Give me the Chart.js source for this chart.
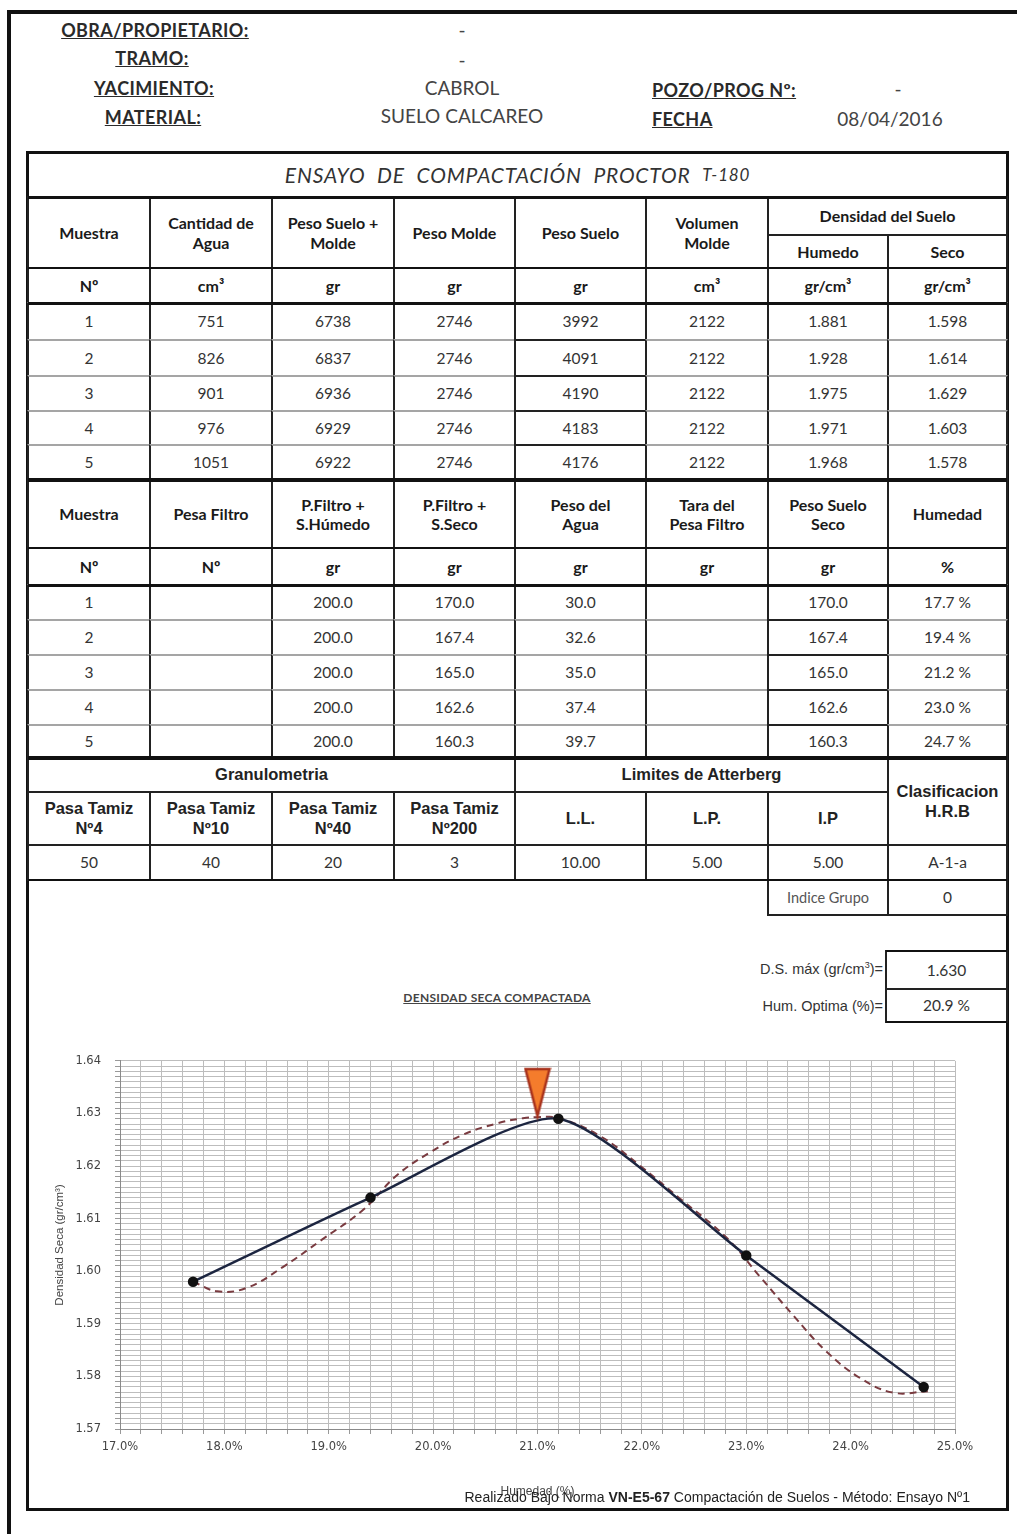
<!DOCTYPE html>
<html>
<head>
<meta charset="utf-8">
<script src="https://cdn.jsdelivr.net/npm/chart.js@4.4.1/dist/chart.umd.min.js"></script>
<style>
  html, body { margin: 0; padding: 0; background: #fff; }
  #page { position: relative; width: 1017px; height: 1534px; overflow: hidden; font-family: "Lato", sans-serif; color: #222; }
  .c { position: absolute; box-sizing: border-box; border: 2px solid #222; display: flex; align-items: center; justify-content: center; text-align: center; line-height: 1.2; }
  .h { font-weight: bold; font-size: 16px; color: #1a1a1a; }
  .a { font-family: "Liberation Sans", Arial, sans-serif; font-weight: bold; font-size: 16.5px; color: #222; }
  .d { font-size: 15.5px; color: #333; border-top-color: #a5a5a5; border-bottom-color: #a5a5a5; }
  .dk { border-top-color: #222; border-bottom-color: #222; }
  .sm { font-size: 14.5px; color: #555; }
  .ttl { font-style: italic; font-size: 21px; letter-spacing: 0.8px; word-spacing: 6px; color: #333; border: none; }
  .hl { position: absolute; background: #111; }
  .t { position: absolute; white-space: nowrap; }
  .lbl { font-weight: bold; text-decoration: underline; font-size: 18px; letter-spacing: 0.4px; color: #2a2a2a; text-align: center; width: 220px; }
  .val { font-size: 19px; color: #444; text-align: center; width: 240px; }
  #chartBox { position: absolute; left: 30px; top: 1040px; width: 960px; height: 470px; }
</style>
</head>
<body>
<div id="page">
  <!-- marco exterior -->
  <div class="hl" style="left:7px;top:10px;width:1010px;height:4px;"></div>
  <div class="hl" style="left:7px;top:10px;width:4px;height:1524px;"></div>
  <!-- recuadro interior -->
  <div style="position:absolute;left:26px;top:151px;width:983px;height:1360px;border:3px solid #111;box-sizing:border-box;"></div>

  <!-- encabezado -->
  <div class="t lbl" style="left:45px;top:19px;">OBRA/PROPIETARIO:</div>
  <div class="t lbl" style="left:42px;top:47px;">TRAMO:</div>
  <div class="t lbl" style="left:44px;top:77px;">YACIMIENTO:</div>
  <div class="t lbl" style="left:43px;top:106px;">MATERIAL:</div>
  <div class="t val" style="left:342px;top:18px;">-</div>
  <div class="t val" style="left:342px;top:48px;">-</div>
  <div class="t val" style="left:342px;top:76px;">CABROL</div>
  <div class="t val" style="left:342px;top:104px;">SUELO CALCAREO</div>
  <div class="t lbl" style="left:652px;top:79px;width:auto;">POZO/PROG Nº:</div>
  <div class="t lbl" style="left:652px;top:108px;width:auto;">FECHA</div>
  <div class="t val" style="left:778px;top:77px;">-</div>
  <div class="t val" style="left:770px;top:107px;">08/04/2016</div>

  <!-- resultados -->
  <div class="t" style="left:600px;top:960px;width:283px;text-align:right;font-family:'Liberation Sans',Arial,sans-serif;font-size:14.5px;color:#333;">D.S. máx (gr/cm<sup style="font-size:9px;">3</sup>)=</div>
  <div class="t" style="left:600px;top:998px;width:283px;text-align:right;font-family:'Liberation Sans',Arial,sans-serif;font-size:14.5px;color:#333;">Hum. Optima (%)=</div>
  <div class="t" style="left:347px;top:990px;width:300px;text-align:center;font-size:12px;font-weight:bold;text-decoration:underline;color:#444;letter-spacing:0.3px;">DENSIDAD SECA COMPACTADA</div>

  <div id="chartBox"><canvas id="compactacion"></canvas></div>

  <div class="t" style="left:370px;top:1489px;width:600px;text-align:right;font-family:'Liberation Sans',Arial,sans-serif;font-size:14px;color:#222;">Realizado Bajo Norma <b>VN-E5-67</b> Compactación de Suelos - Método: Ensayo Nº1</div>
</div>

<script>
// ---- datos ensayo ----
const muestras = [1, 2, 3, 4, 5];
const cantidadAgua = [751, 826, 901, 976, 1051];
const pesoSueloMolde = [6738, 6837, 6936, 6929, 6922];
const pesoMolde = [2746, 2746, 2746, 2746, 2746];
const pesoSuelo = [3992, 4091, 4190, 4183, 4176];
const volumenMolde = [2122, 2122, 2122, 2122, 2122];
const densHumedo = ["1.881", "1.928", "1.975", "1.971", "1.968"];
const densSeco = [1.598, 1.614, 1.629, 1.603, 1.578];

const pFiltroHumedo = ["200.0", "200.0", "200.0", "200.0", "200.0"];
const pFiltroSeco = ["170.0", "167.4", "165.0", "162.6", "160.3"];
const pesoAgua = ["30.0", "32.6", "35.0", "37.4", "39.7"];
const pesoSueloSeco = ["170.0", "167.4", "165.0", "162.6", "160.3"];
const humedad = [17.7, 19.4, 21.2, 23.0, 24.7];

const granulometria = ["50", "40", "20", "3"];
const atterberg = ["10.00", "5.00", "5.00"];
const clasificacion = "A-1-a";
const indiceGrupo = "0";
const dsMax = "1.630";
const humOptima = "20.9 %";

// curva de ajuste (punteada)
const ajusteHum  = [17.70, 17.93, 18.21, 18.56, 18.92, 19.33, 19.65, 19.97, 20.29, 20.61, 20.86, 21.00, 21.21, 21.60, 21.98, 22.36, 22.81, 23.13, 23.45, 23.77, 24.09, 24.41, 24.74];
const ajusteDens = [1.5980, 1.5962, 1.5968, 1.6008, 1.6058, 1.6117, 1.6182, 1.6226, 1.6260, 1.6281, 1.6291, 1.6293, 1.6291, 1.6257, 1.6201, 1.6139, 1.6064, 1.5990, 1.5916, 1.5847, 1.5797, 1.5769, 1.5772];
const maximo = { x: 21.0, y: 1.6295 };

// ---- tablas ----
const page = document.getElementById('page');
const colX = [28, 150, 272, 394, 515, 646, 768, 888, 1007];
const filas1 = [303, 340, 376, 411, 445, 480];
const filas2 = [585, 620, 655, 690, 725, 758];

function cell(x1, y1, x2, y2, html, cls) {
  const d = document.createElement('div');
  d.className = 'c ' + (cls || '');
  d.style.left = (x1 - 1) + 'px';
  d.style.top = (y1 - 1) + 'px';
  d.style.width = (x2 - x1 + 2) + 'px';
  d.style.height = (y2 - y1 + 2) + 'px';
  d.innerHTML = html;
  page.appendChild(d);
}
function hline(x1, x2, y, w) {
  const d = document.createElement('div');
  d.className = 'hl';
  d.style.left = x1 + 'px';
  d.style.top = (y - w / 2) + 'px';
  d.style.width = (x2 - x1) + 'px';
  d.style.height = w + 'px';
  page.appendChild(d);
}

cell(28, 153, 1007, 197, 'ENSAYO DE COMPACTACIÓN PROCTOR&nbsp;<span style="font-size:17px;word-spacing:0">T-180</span>', 'ttl');

// seccion 1
const cab1 = ['Muestra', 'Cantidad de<br>Agua', 'Peso Suelo +<br>Molde', 'Peso Molde', 'Peso Suelo', 'Volumen<br>Molde'];
cab1.forEach((t, i) => cell(colX[i], 197, colX[i + 1], 268, t, 'h'));
cell(colX[6], 197, colX[8], 235, 'Densidad del Suelo', 'h');
cell(colX[6], 235, colX[7], 268, 'Humedo', 'h');
cell(colX[7], 235, colX[8], 268, 'Seco', 'h');
const unid1 = ['Nº', 'cm³', 'gr', 'gr', 'gr', 'cm³', 'gr/cm³', 'gr/cm³'];
unid1.forEach((t, i) => cell(colX[i], 268, colX[i + 1], 303, t, 'h'));
const cols1 = [muestras, cantidadAgua, pesoSueloMolde, pesoMolde, pesoSuelo, volumenMolde, densHumedo, densSeco.map(v => v.toFixed(3))];
cols1.forEach((col, i) => col.forEach((v, r) =>
  cell(colX[i], filas1[r], colX[i + 1], filas1[r + 1], v, 'd' + (i === 4 ? ' dk' : ''))));

// seccion 2
const cab2 = ['Muestra', 'Pesa Filtro', 'P.Filtro +<br>S.Húmedo', 'P.Filtro +<br>S.Seco', 'Peso del<br>Agua', 'Tara del<br>Pesa Filtro', 'Peso Suelo<br>Seco', 'Humedad'];
cab2.forEach((t, i) => cell(colX[i], 480, colX[i + 1], 548, t, 'h'));
const unid2 = ['Nº', 'Nº', 'gr', 'gr', 'gr', 'gr', 'gr', '%'];
unid2.forEach((t, i) => cell(colX[i], 548, colX[i + 1], 585, t, 'h'));
const vacio = ['', '', '', '', ''];
const cols2 = [muestras, vacio, pFiltroHumedo, pFiltroSeco, pesoAgua, vacio, pesoSueloSeco, humedad.map(v => v.toFixed(1) + ' %')];
cols2.forEach((col, i) => col.forEach((v, r) =>
  cell(colX[i], filas2[r], colX[i + 1], filas2[r + 1], v, 'd' + (i === 6 ? ' dk' : ''))));

// seccion 3
cell(colX[0], 758, colX[4], 792, 'Granulometria', 'a');
cell(colX[4], 758, colX[7], 792, 'Limites de Atterberg', 'a');
cell(colX[7], 758, colX[8], 845, 'Clasificacion<br>H.R.B', 'a');
['Pasa Tamiz<br>Nº4', 'Pasa Tamiz<br>Nº10', 'Pasa Tamiz<br>Nº40', 'Pasa Tamiz<br>Nº200', 'L.L.', 'L.P.', 'I.P']
  .forEach((t, i) => cell(colX[i], 792, colX[i + 1], 845, t, 'a'));
granulometria.concat(atterberg, [clasificacion])
  .forEach((v, i) => cell(colX[i], 845, colX[i + 1], 880, v, 'd dk'));
cell(colX[6], 880, colX[7], 915, 'Indice Grupo', 'd dk sm');
cell(colX[7], 880, colX[8], 915, indiceGrupo, 'd dk');

// resultados
cell(886, 951, 1007, 989, dsMax, 'd dk');
cell(886, 989, 1007, 1022, humOptima, 'd dk');

// lineas gruesas
hline(28, 1007, 197, 3);
hline(28, 1007, 268, 2);
hline(28, 1007, 303, 3);
hline(28, 1007, 480, 3.5);
hline(28, 1007, 548, 2);
hline(28, 1007, 585, 3);
hline(28, 1007, 758, 3.5);
hline(28, 1007, 880, 2.5);
hline(886, 1007, 951, 2.5);
hline(886, 1007, 1022, 2.5);

// ---- grafico ----
function marcadorMaximo() {
  const c = document.createElement('canvas');
  c.width = 28; c.height = 98;
  const g = c.getContext('2d');
  g.beginPath();
  g.moveTo(2, 2); g.lineTo(26, 2); g.lineTo(14, 49);
  g.closePath();
  g.fillStyle = '#f47c2c';
  g.fill();
  g.lineWidth = 2.5;
  g.strokeStyle = '#a8321c';
  g.stroke();
  return c;
}

const fuenteEje = { family: 'DejaVu Sans', size: 11.5 };

new Chart(document.getElementById('compactacion'), {
  type: 'scatter',
  data: {
    datasets: [
      {
        data: [maximo],
        pointStyle: marcadorMaximo(),
        pointRadius: 10,
        showLine: false,
      },
      {
        data: humedad.map((x, i) => ({ x, y: densSeco[i] })),
        showLine: true,
        borderColor: '#1c2540',
        borderWidth: 2.5,
        tension: 0.22,
        pointRadius: 4,
        pointBackgroundColor: '#111',
        pointBorderColor: '#111',
      },
      {
        data: ajusteHum.map((x, i) => ({ x, y: ajusteDens[i] })),
        showLine: true,
        borderColor: '#7a3b40',
        borderDash: [7, 5],
        borderWidth: 2,
        tension: 0.4,
        pointRadius: 0,
      },
    ]
  },
  options: {
    responsive: true,
    maintainAspectRatio: false,
    animation: false,
    layout: { padding: { top: 13, right: 35, left: 0, bottom: 0 } },
    plugins: {
      legend: { display: false },
      tooltip: { enabled: false },
    },
    scales: {
      x: {
        type: 'linear', min: 17, max: 25,
        ticks: {
          stepSize: 0.2, autoSkip: false, maxRotation: 0, padding: 6,
          color: '#444', font: fuenteEje,
          callback: v => Math.abs(v - Math.round(v)) < 1e-6 ? v.toFixed(1) + '%' : '',
        },
        grid: { color: '#bdbdbd', lineWidth: 1, tickLength: 5, tickColor: '#999' },
        border: { color: '#8a8a8a' },
        title: {
          display: true, text: 'Humedad (%)', color: '#444',
          font: { family: 'Liberation Sans', size: 12 },
          padding: { top: 0, bottom: 11 },
        },
        afterFit: s => { s.height = 81; },
      },
      y: {
        type: 'linear', min: 1.57, max: 1.64,
        ticks: {
          stepSize: 0.001, autoSkip: false, padding: 14,
          color: '#444', font: fuenteEje,
          callback: v => Math.abs(v * 100 - Math.round(v * 100)) < 1e-6 ? v.toFixed(2) : '',
        },
        grid: { color: '#bdbdbd', lineWidth: 1, tickLength: 5, tickColor: '#999' },
        border: { color: '#8a8a8a' },
        title: {
          display: true, text: 'Densidad Seca (gr/cm³)', color: '#444',
          font: { family: 'Liberation Sans', size: 11.5 },
          padding: { top: 23, bottom: 0 },
        },
        afterFit: s => { s.width = 90; },
      },
    },
  },
});
</script>
</body>
</html>
